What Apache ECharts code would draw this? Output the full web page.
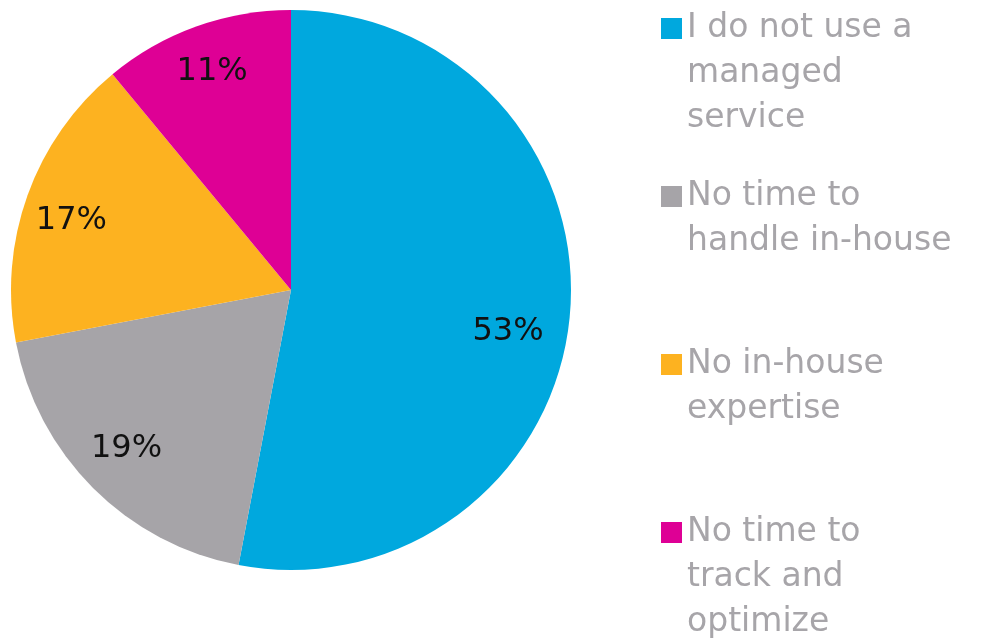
<!DOCTYPE html>
<html>
<head>
<meta charset="utf-8">
<style>
  html, body { margin: 0; padding: 0; background: #ffffff; }
  #chart { width: 989px; height: 641px; }
</style>
<script src="https://cdn.jsdelivr.net/npm/echarts@6/dist/echarts.min.js"></script>
</head>
<body>
<div id="chart"></div>
<script>
// Reasons given for not using a managed service
const categories = [
  'I do not use a\nmanaged\nservice',
  'No time to\nhandle in-house',
  'No in-house\nexpertise',
  'No time to\ntrack and\noptimize'
];
const shares = [53, 19, 17, 11];
const sliceColors = ['#00a8de', '#a6a4a8', '#fdb220', '#de0095'];

const FONT = '"DejaVu Sans", Verdana, sans-serif';
const LINE_H = 45;
const LEGEND_TOPS = [1, 169, 337, 505];
// small nudges so each percentage sits nicely inside its slice
const LABEL_NUDGE = [[-9, 20], [-4, -2], [-6, 8], [-2, -5]];

const pieData = categories.map((name, i) => ({
  name: name,
  value: shares[i],
  itemStyle: { color: sliceColors[i] }
}));

// Legend marker: a square near the top of a tall, otherwise empty box,
// so the marker sits beside the first line of a multi-line label.
function markerPath(lines) {
  const h = lines * LINE_H;
  return 'path://M0,0 L0.01,0 M0,12 L21,12 L21,33 L0,33 Z M0,' + h + ' L0.01,' + h;
}

const legends = categories.map((name, i) => {
  const lines = name.split('\n').length;
  return {
    data: [{ name: name, icon: markerPath(lines) }],
    left: 656,
    top: LEGEND_TOPS[i],
    orient: 'vertical',
    itemWidth: 21,
    itemHeight: lines * LINE_H,
    selectedMode: false,
    textStyle: {
      color: '#a7a5a9',
      fontSize: 33,
      fontFamily: FONT,
      lineHeight: LINE_H
    }
  };
});

const chart = echarts.init(document.getElementById('chart'));
chart.setOption({
  animation: false,
  backgroundColor: '#ffffff',
  legend: legends,
  series: [
    {
      type: 'pie',
      center: [291, 290],
      radius: [0, 280],
      startAngle: 90,
      clockwise: true,
      label: { show: false },
      labelLine: { show: false },
      itemStyle: { borderWidth: 0 },
      emphasis: { disabled: true },
      data: pieData
    },
    {
      // transparent ring that carries the percentage labels at ~0.8 radius
      type: 'pie',
      center: [291, 290],
      radius: [168, 280],
      startAngle: 90,
      clockwise: true,
      silent: true,
      legendHoverLink: false,
      itemStyle: { color: 'rgba(0,0,0,0)', borderWidth: 0 },
      label: {
        show: true,
        position: 'inside',
        formatter: '{c}%',
        color: '#111111',
        fontSize: 32,
        fontFamily: FONT
      },
      labelLine: { show: false },
      emphasis: { disabled: true },
      data: categories.map((name, i) => ({
        name: name,
        value: shares[i],
        label: { offset: LABEL_NUDGE[i] }
      }))
    }
  ]
});
</script>
</body>
</html>
